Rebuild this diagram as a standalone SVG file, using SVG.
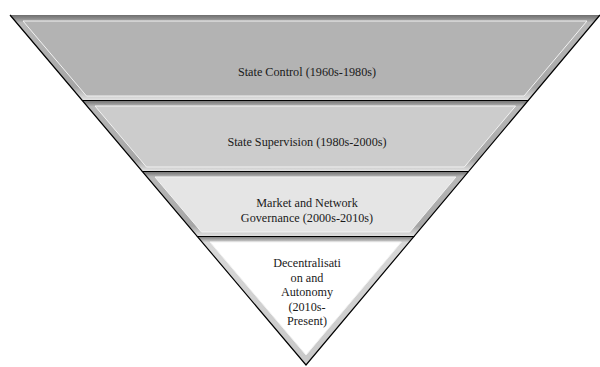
<svg xmlns="http://www.w3.org/2000/svg" width="600" height="367" viewBox="0 0 600 367">
  <defs>
    <linearGradient id="bev" x1="0" y1="0" x2="0" y2="1">
      <stop offset="0" stop-color="#6e6e6e"/>
      <stop offset="0.04" stop-color="#8a8a8a"/>
      <stop offset="0.09" stop-color="#b8b8b8"/>
      <stop offset="0.85" stop-color="#a6a6a6"/>
      <stop offset="1" stop-color="#e2e2e2"/>
    </linearGradient>
    <linearGradient id="bev4" x1="0" y1="0" x2="0" y2="1">
      <stop offset="0" stop-color="#6e6e6e"/>
      <stop offset="0.02" stop-color="#9a9a9a"/>
      <stop offset="0.05" stop-color="#d8d8d8"/>
      <stop offset="1" stop-color="#c8c8c8"/>
    </linearGradient>
  </defs>
  <style>
    .bevel { fill: url(#bev); }
    .face { stroke: #f2f2f2; stroke-width: 1; }
    .edge { fill: none; stroke: #000; stroke-width: 1.2; }
    .lbl { font-family: "Liberation Serif", "Times New Roman", serif; font-size: 12.2px; fill: #1a1a1a; text-anchor: middle; }
  </style>
  <rect width="600" height="367" fill="#fff"/>

  <g id="layer1">
    <polygon class="bevel" points="10,15 600,15 528.6,100 81.9,100"/>
    <polygon class="face" fill="#b3b3b3" points="23,21 587,21 524,96 86.5,96"/>
    <text class="lbl" x="307" y="76">State Control (1960s-1980s)</text>
  </g>

  <g id="layer2">
    <polygon class="bevel" points="81.9,100 528.6,100 469,171 141.9,171"/>
    <polygon class="face" fill="#cccccc" points="95,106 515.6,106 464.3,167 146.5,167"/>
    <line x1="81.9" y1="100.5" x2="528.6" y2="100.5" stroke="#000" stroke-width="1"/>
    <text class="lbl" x="307" y="146">State Supervision (1980s-2000s)</text>
  </g>

  <g id="layer3">
    <polygon class="bevel" points="141.9,171 469,171 414.4,236 196.9,236"/>
    <polygon class="face" fill="#e5e5e5" points="155,177 455.9,177 409.7,232 201.5,232"/>
    <line x1="141.9" y1="171.5" x2="469" y2="171.5" stroke="#000" stroke-width="1"/>
    <text class="lbl" x="307" y="207">Market and Network</text>
    <text class="lbl" x="307" y="222">Governance (2000s-2010s)</text>
  </g>

  <g id="layer4">
    <polygon fill="url(#bev4)" points="196.9,236 414.4,236 306,365"/>
    <polygon class="face" fill="#ffffff" stroke="#e8e8e8" points="210,242 401.4,242 306,355"/>
    <line x1="196.9" y1="236.5" x2="414.4" y2="236.5" stroke="#000" stroke-width="1"/>
    <text class="lbl" x="307" y="267">Decentralisati</text>
    <text class="lbl" x="307" y="281.5">on and</text>
    <text class="lbl" x="307" y="296">Autonomy</text>
    <text class="lbl" x="307" y="310.5">(2010s-</text>
    <text class="lbl" x="307" y="325">Present)</text>
  </g>

  <g id="connectors">
    <polyline class="edge" points="10,15 306,365 600,15"/>
  </g>
</svg>
